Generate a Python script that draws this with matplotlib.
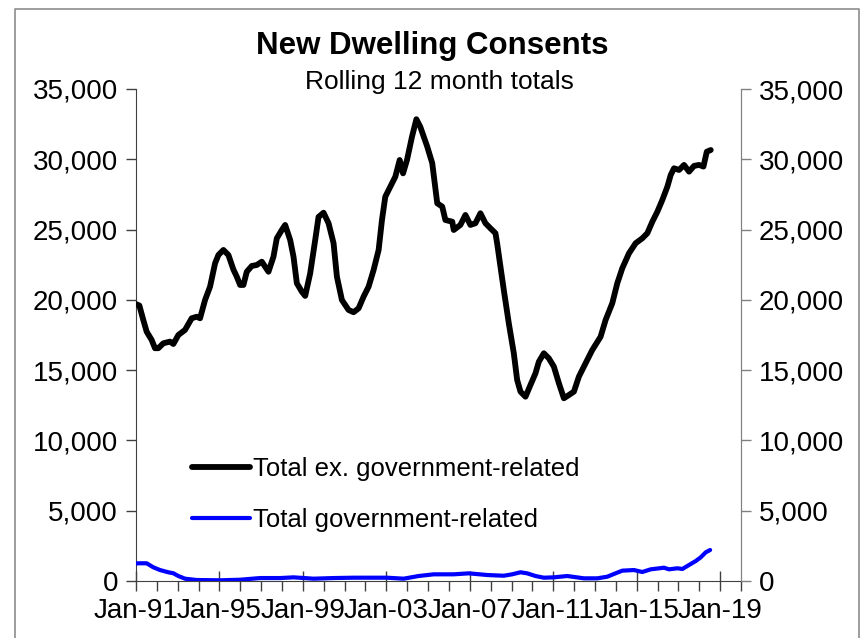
import matplotlib

matplotlib.use("Agg")
import matplotlib.pyplot as plt
from matplotlib.lines import Line2D
from matplotlib.ticker import FixedLocator, FuncFormatter

plt.rcParams["font.family"] = ["Liberation Sans", "DejaVu Sans"]

# Rolling 12 month totals (decimal years)
ex_gov_years = [
    1991.0, 1991.16, 1991.35, 1991.51, 1991.75, 1991.91, 1992.07, 1992.31, 1992.63, 1992.79,
    1993.03, 1993.35, 1993.67, 1993.91, 1994.07, 1994.31, 1994.55, 1994.79, 1994.95, 1995.19,
    1995.43, 1995.67, 1995.83, 1995.99, 1996.15, 1996.31, 1996.55, 1996.79, 1997.03, 1997.35,
    1997.59, 1997.75, 1997.99, 1998.15, 1998.39, 1998.55, 1998.71, 1998.95, 1999.11, 1999.35,
    1999.59, 1999.75, 1999.99, 2000.23, 2000.47, 2000.63, 2000.87, 2001.19, 2001.43, 2001.67,
    2001.91, 2002.15, 2002.39, 2002.63, 2002.79, 2002.95, 2003.19, 2003.43, 2003.64, 2003.8,
    2003.99, 2004.23, 2004.44, 2004.63, 2004.96, 2005.2, 2005.44, 2005.68, 2005.83, 2006.16,
    2006.23, 2006.55, 2006.79, 2007.03, 2007.27, 2007.51, 2007.75, 2007.99, 2008.23, 2008.31,
    2008.47, 2008.63, 2008.87, 2009.11, 2009.27, 2009.43, 2009.67, 2009.91, 2010.15, 2010.31,
    2010.55, 2010.79, 2011.03, 2011.27, 2011.51, 2011.75, 2011.99, 2012.23, 2012.55, 2012.87,
    2013.27, 2013.51, 2013.83, 2014.07, 2014.31, 2014.63, 2014.95, 2015.27, 2015.51, 2015.75,
    2015.99, 2016.23, 2016.47, 2016.63, 2016.79, 2017.03, 2017.27, 2017.51, 2017.75, 2017.99,
    2018.2, 2018.36, 2018.55,
]
ex_gov_values = [
    19700, 19600, 18570, 17740, 17150, 16560, 16560, 16910, 17030, 16860,
    17500, 17860, 18690, 18800, 18690, 19990, 20940, 22600, 23190, 23550,
    23190, 22150, 21650, 21060, 21060, 22000, 22410, 22480, 22715, 22000,
    23070, 24380, 24970, 25330, 24260, 23070, 21180, 20580, 20280, 21890,
    24260, 25900, 26200, 25450, 24030, 21650, 19990, 19280, 19120, 19400,
    20230, 20940, 22130, 23550, 25680, 27340, 28050, 28760, 29950, 29000,
    29950, 31610, 32850, 32300, 30900, 29720, 26870, 26630, 25680, 25560,
    24970, 25330, 26040, 25330, 25450, 26160, 25450, 25090, 24740, 24030,
    22360, 20700, 18330, 16200, 14300, 13470, 13110, 13950, 14780, 15600,
    16200, 15840, 15250, 14070, 13000, 13230, 13470, 14540, 15490, 16430,
    17380, 18570, 19760, 21180, 22250, 23310, 24030, 24380, 24740, 25560,
    26270, 27110, 28050, 28880, 29360, 29240, 29600, 29120, 29530, 29600,
    29480, 30540, 30660,
]

gov_years = [
    1991.0, 1991.16, 1991.51, 1991.83, 1992.15, 1992.55, 1992.79, 1993.03, 1993.35, 1993.91,
    1995.03, 1995.99, 1996.95, 1997.91, 1998.55, 1999.51, 2000.47, 2001.43, 2002.39, 2003.03,
    2003.83, 2004.55, 2005.27, 2006.23, 2006.95, 2007.84, 2008.63, 2009.03, 2009.43, 2009.75,
    2010.15, 2010.55, 2011.03, 2011.67, 2012.47, 2013.11, 2013.59, 2013.91, 2014.31, 2014.87,
    2015.27, 2015.67, 2016.31, 2016.55, 2016.95, 2017.19, 2017.51, 2017.83, 2018.07, 2018.31,
    2018.52,
]
gov_values = [
    1250, 1260, 1260, 975, 780, 620, 550, 355, 165, 70,
    50, 90, 210, 210, 260, 165, 210, 235, 235, 235,
    165, 355, 475, 475, 545, 425, 375, 475, 620, 545,
    355, 235, 260, 355, 190, 190, 305, 500, 735, 780,
    640, 830, 945, 830, 905, 855, 1140, 1420, 1685, 2040,
    2205,
]

major_years = list(range(1991, 2020, 4))
major_labels = [f"Jan-{y % 100:02d}" for y in major_years]
y_ticks = list(range(0, 35001, 5000))

W, H = 862, 638
fig = plt.figure(figsize=(W / 100, H / 100), dpi=100)

# outer frame of the chart object
frame_x = [15 / W, 15 / W, 859 / W, 859 / W]
frame_y = [0, 1 - 9 / H, 1 - 9 / H, 0]
fig.add_artist(Line2D(frame_x, frame_y, transform=fig.transFigure, color="#8c8c8c", lw=1.2))

left, right, top, bottom = 136, 741, 89, 581
ax = fig.add_axes([left / W, 1 - bottom / H, (right - left) / W, (bottom - top) / H])

ax.plot(ex_gov_years, ex_gov_values, color="black", lw=4.2, solid_capstyle="round",
        solid_joinstyle="round", label="Total ex. government-related", zorder=3)
ax.plot(gov_years, gov_values, color="#0000ff", lw=3.0, solid_capstyle="round",
        solid_joinstyle="round", label="Total government-related", zorder=3)

ax.set_xlim(1991, 2020)
ax.set_ylim(0, 35000)
ax.xaxis.set_major_locator(FixedLocator(major_years))
ax.xaxis.set_minor_locator(FixedLocator(list(range(1991, 2021))))
ax.set_xticklabels(major_labels)
ax.set_yticks(y_ticks)
ax.yaxis.set_major_formatter(FuncFormatter(lambda v, p: f"{int(v):,}"))

ax.spines["top"].set_visible(False)
for side in ["left", "bottom"]:
    ax.spines[side].set_color("#404040")
ax.spines["right"].set_color("#808080")
ax.tick_params(axis="x", which="major", direction="inout", length=14, width=1,
               color="#404040", labelsize=20, pad=5)
ax.tick_params(axis="x", which="minor", direction="out", length=7, width=1, color="#404040")
ax.tick_params(axis="y", direction="out", length=7, width=1, color="#404040", labelsize=20, pad=6)

ax2 = ax.twinx()
ax2.set_ylim(0, 35000)
ax2.set_yticks(y_ticks)
ax2.yaxis.set_major_formatter(FuncFormatter(lambda v, p: f"{int(v):,}"))
ax2.tick_params(axis="y", direction="out", length=7, width=1, color="#808080", labelsize=20, pad=6)
ax2.spines["top"].set_visible(False)
ax2.spines["right"].set_color("#808080")
ax2.spines["left"].set_visible(False)
ax2.spines["bottom"].set_visible(False)

ax.legend(loc="upper left", bbox_to_anchor=(192 / W, 1 - 457 / H), bbox_transform=fig.transFigure,
          frameon=False, fontsize=18.5, handlelength=2.25, handletextpad=0.12, labelspacing=1.05,
          borderpad=0, borderaxespad=0)

fig.text(432 / W, 1 - 46 / H, "New Dwelling Consents", ha="center", va="center",
         fontsize=22.5, fontweight="bold")
fig.text(439 / W, 1 - 82 / H, "Rolling 12 month totals", ha="center", va="center", fontsize=19)

fig.savefig("out.png", dpi=100)
